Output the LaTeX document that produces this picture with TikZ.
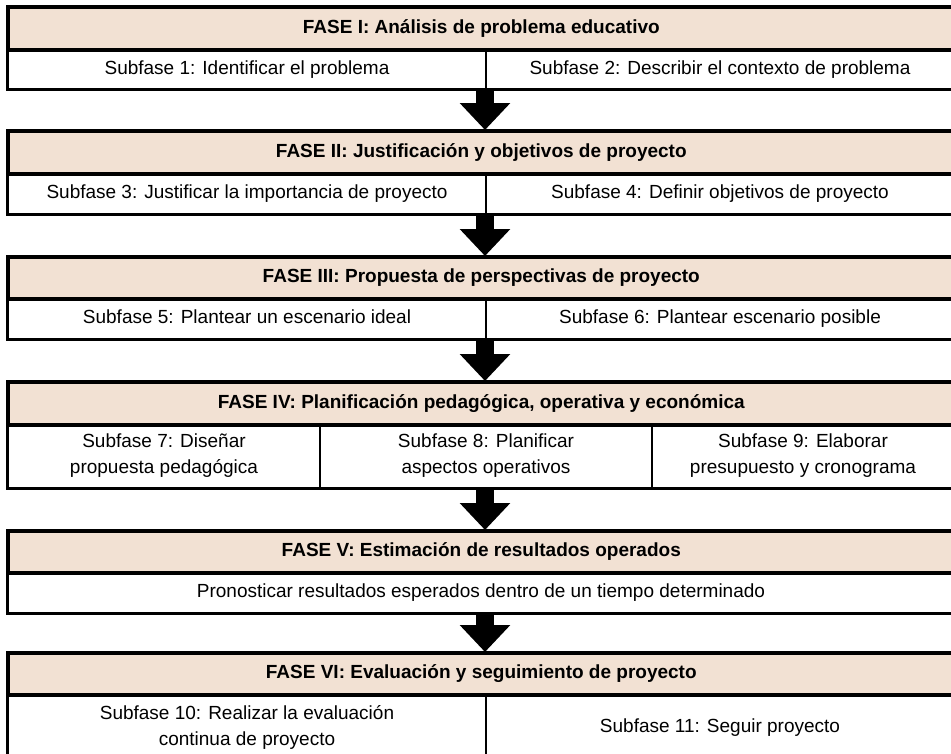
\documentclass[tikz,border=0pt]{standalone}
\usepackage{fontspec}
\setmainfont{Liberation Sans}
\usetikzlibrary{arrows.meta}
\definecolor{hdrfill}{RGB}{242,225,211}
\begin{document}
\begin{tikzpicture}[x=1pt,y=-1pt,
  hdr/.style={draw=black, line width=2.6pt, fill=hdrfill, inner sep=0pt, anchor=north west,
    minimum width=946pt, minimum height=42pt, text height=14pt, text depth=4pt,
    font=\bfseries\fontsize{19}{23}\selectfont},
  cell/.style={draw=black, line width=2pt, inner sep=0pt, anchor=north west, align=center,
    font=\fontsize{19}{26}\selectfont},
  oneline/.style={text height=14pt, text depth=4pt},
  frame/.style={draw=black, line width=2.6pt},
  bigarrow/.style={draw=black, line width=18pt, -{Triangle[length=27pt,width=49pt]}}]
\useasboundingbox (0,0) rectangle (951,753);
\clip (0,0) rectangle (951,753);
\fill[white] (0,0) rectangle (951,753);
\coordinate (ax) at (485,0);

% FASE I
\node[hdr] (h1) at (7,6) {FASE I: Análisis de problema educativo};
\node[cell, oneline, minimum width=478pt, minimum height=40pt] (s1a) at (7,48) {Subfase 1: Identificar el problema};
\node[cell, oneline, minimum width=468pt, minimum height=40pt] (s1b) at (485,48) {Subfase 2: Describir el contexto de problema};
\draw[frame] (h1.north west) rectangle (s1b.south east);
\draw[frame] (h1.south west) -- (h1.south east);

% FASE II
\node[hdr] (h2) at (7,130) {FASE II: Justificación y objetivos de proyecto};
\node[cell, oneline, minimum width=478pt, minimum height=41pt] (s2a) at (7,172) {Subfase 3: Justificar la importancia de proyecto};
\node[cell, oneline, minimum width=468pt, minimum height=41pt] (s2b) at (485,172) {Subfase 4: Definir objetivos de proyecto};
\draw[frame] (h2.north west) rectangle (s2b.south east);
\draw[frame] (h2.south west) -- (h2.south east);

% FASE III
\node[hdr, minimum height=41pt] (h3) at (7,256) {FASE III: Propuesta de perspectivas de proyecto};
\node[cell, oneline, minimum width=478pt, minimum height=41pt] (s3a) at (7,297) {Subfase 5: Plantear un escenario ideal};
\node[cell, oneline, minimum width=468pt, minimum height=41pt] (s3b) at (485,297) {Subfase 6: Plantear escenario posible};
\draw[frame] (h3.north west) rectangle (s3b.south east);
\draw[frame] (h3.south west) -- (h3.south east);

% FASE IV
\node[hdr] (h4) at (7,381) {FASE IV: Planificación pedagógica, operativa y económica};
\node[cell, minimum width=312pt, minimum height=64pt] (s4a) at (7,423) {Subfase 7: Diseñar\\propuesta pedagógica};
\node[cell, minimum width=332pt, minimum height=64pt] (s4b) at (319,423) {Subfase 8: Planificar\\aspectos operativos};
\node[cell, minimum width=302pt, minimum height=64pt] (s4c) at (651,423) {Subfase 9: Elaborar\\presupuesto y cronograma};
\draw[frame] (h4.north west) rectangle (s4c.south east);
\draw[frame] (h4.south west) -- (h4.south east);

% FASE V
\node[hdr, minimum height=41pt] (h5) at (7,530) {FASE V: Estimación de resultados operados};
\node[cell, oneline, minimum width=946pt, minimum height=41pt] (s5) at (7,571) {Pronosticar resultados esperados dentro de un tiempo determinado};
\draw[frame] (h5.north west) rectangle (s5.south east);
\draw[frame] (h5.south west) -- (h5.south east);

% FASE VI
\node[hdr, minimum height=41pt] (h6) at (7,652) {FASE VI: Evaluación y seguimiento de proyecto};
\node[cell, minimum width=478pt, minimum height=66pt] (s6a) at (7,693) {Subfase 10: Realizar la evaluación\\continua de proyecto};
\node[cell, oneline, minimum width=468pt, minimum height=66pt] (s6b) at (485,693) {Subfase 11: Seguir proyecto};
\draw[frame] (h6.north west) rectangle (s6b.south east);
\draw[frame] (h6.south west) -- (h6.south east);

% arrows
\draw[bigarrow] (s1a.south -| ax) -- (h2.north -| ax);
\draw[bigarrow] (s2a.south -| ax) -- (h3.north -| ax);
\draw[bigarrow] (s3a.south -| ax) -- (h4.north -| ax);
\draw[bigarrow] (s4a.south -| ax) -- (h5.north -| ax);
\draw[bigarrow] (s5.south -| ax) -- (h6.north -| ax);
\end{tikzpicture}
\end{document}
